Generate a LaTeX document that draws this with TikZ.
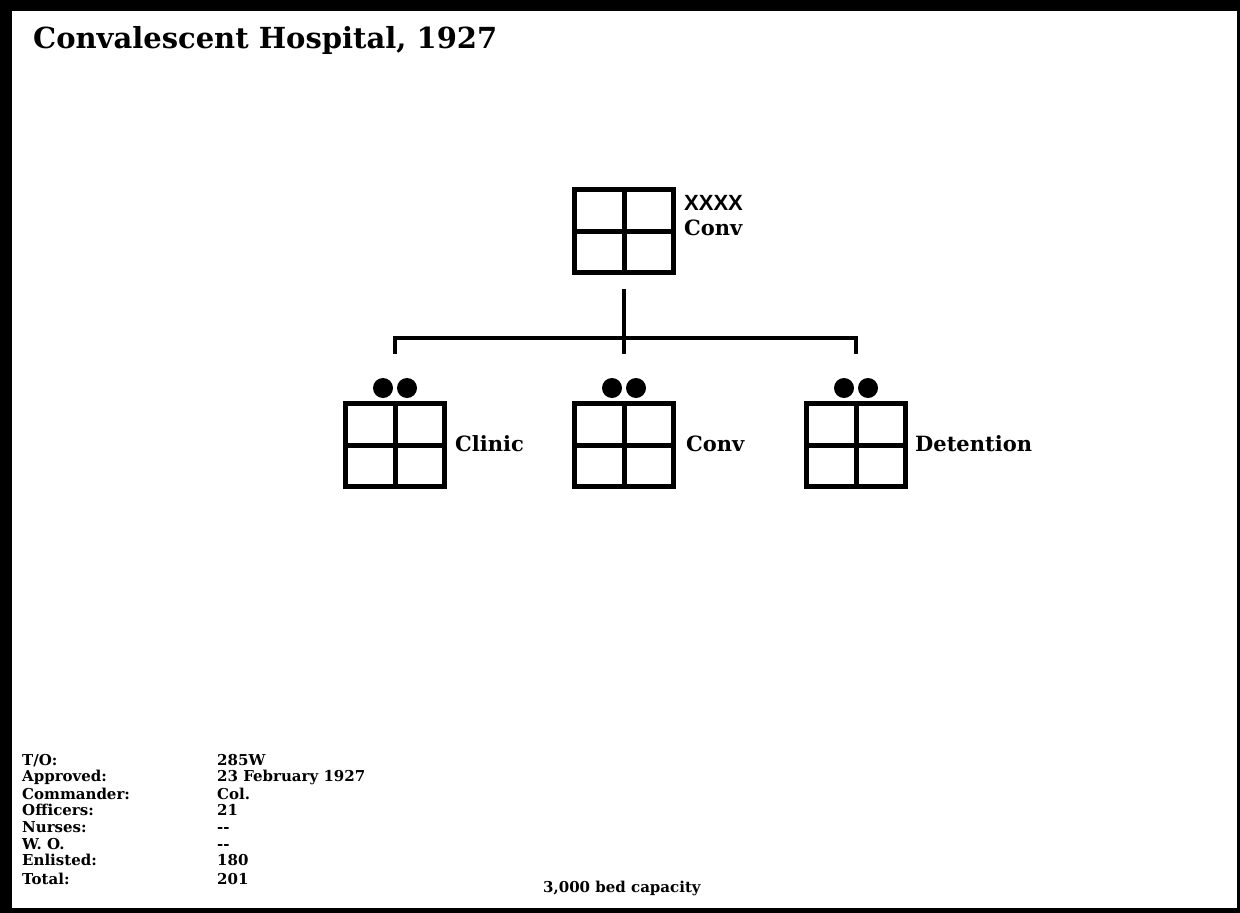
\documentclass[tikz,border=0pt]{standalone}
\usepackage{fontspec}
\setmainfont{DejaVu Serif}
\newfontfamily\echelonfont{Liberation Sans}
\tikzset{
  unit/.style={draw, line width=5pt, minimum width=99pt, minimum height=83pt, inner sep=0pt},
  unitline/.style={line width=5pt},
  link/.style={line width=4.5pt, line join=miter},
  lbl/.style={anchor=base west, inner sep=0pt, font=\bfseries\fontsize{21}{24}\selectfont},
  tbl/.style={anchor=base west, inner sep=0pt, font=\bfseries\fontsize{15}{17}\selectfont}
}
\begin{document}
\begin{tikzpicture}[x=1pt, y=-1pt]
    % Frame
    \fill[black] (0,0) rectangle (1240,913);
    \fill[white] (12,11) rectangle (1237,908);
    % Title
    \node[anchor=base west, inner sep=0pt, font=\bfseries\fontsize{29}{34}\selectfont] (title) at (33,48) {Convalescent Hospital, 1927};
    % Headquarters
    \node[unit] (hq) at (624,231) {};
    \draw[unitline] (hq.north) -- (hq.south);
    \draw[unitline] (hq.west) -- (hq.east);
    \node[lbl, font=\echelonfont\bfseries\fontsize{22}{24}\selectfont] (hqsize) at (684,210) {XXXX};
    \node[lbl] (hqname) at (684,235) {Conv};
    % Subordinate units
    \foreach \name/\x/\txt/\tx in {clinic/395/Clinic/455, conv/624/Conv/686, detention/856/Detention/915} {
        \node[unit] (\name) at (\x,445) {};
        \draw[unitline] (\name.north) -- (\name.south);
        \draw[unitline] (\name.west) -- (\name.east);
        \fill (\x-12,388) circle (10pt);
        \fill (\x+12,388) circle (10pt);
        \node[lbl] (\name-name) at (\tx,451) {\txt};
    }
    % Connectors
    \coordinate (bus) at (624,338);
    \draw[link, shorten <=14pt, shorten >=47pt] (hq.south) -- (conv.north);
    \draw[link] ([yshift=47pt]clinic.north) |- (bus) -| ([yshift=47pt]detention.north);
    % Strength table
    \foreach \k/\v/\y in {{T/O:}/285W/765, Approved:/23 February 1927/781, Commander:/Col./799,
        Officers:/21/815, Nurses:/{{-}{-}}/832, W. O./{{-}{-}}/849, Enlisted:/180/865, Total:/201/884} {
        \node[tbl] at (22,\y) {\k};
        \node[tbl] at (217,\y) {\v};
    }
    \node[tbl] (beds) at (543,892) {3,000 bed capacity};
\end{tikzpicture}
\end{document}
